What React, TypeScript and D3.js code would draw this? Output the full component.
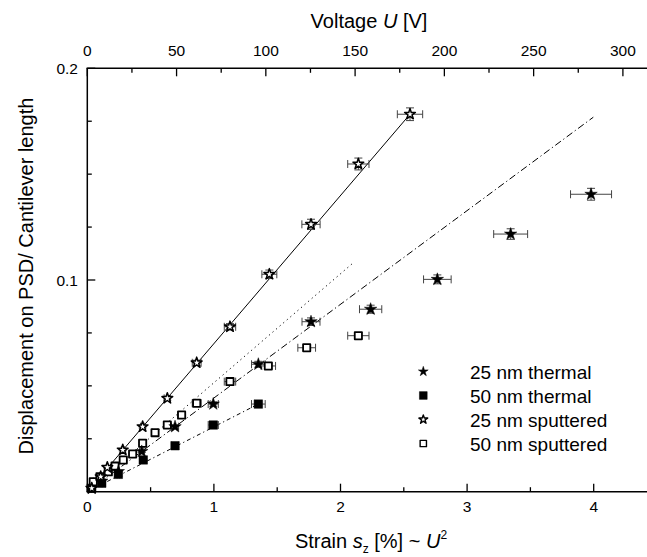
import React from "react";
import * as d3 from "d3";

// ---- data (strain s [%], displacement) ----
const thermal25S = [0.035, 0.114, 0.245, 0.43, 0.693, 0.995, 1.351, 1.767, 2.238, 2.765, 3.344, 3.979];
const thermal25D = [0.0016, 0.005, 0.0095, 0.019, 0.0307, 0.0414, 0.0602, 0.0803, 0.0862, 0.1003, 0.1217, 0.1405];
const thermal25Ex = [0.002, 0.005, 0.01, 0.017, 0.028, 0.04, 0.054, 0.071, 0.088, 0.109, 0.134, 0.162];
const thermal25Ey = [0.0001, 0.0002, 0.0003, 0.0005, 0.0008, 0.001, 0.0014, 0.0018, 0.0019, 0.0021, 0.0025, 0.0028];

const thermal50S = [0.035, 0.114, 0.245, 0.442, 0.693, 0.995, 1.351];
const thermal50D = [0.0016, 0.004, 0.0082, 0.015, 0.0217, 0.0315, 0.0414];
const thermal50Ex = [0.002, 0.005, 0.01, 0.018, 0.028, 0.04, 0.054];
const thermal50Ey = [0.0001, 0.0001, 0.0002, 0.0003, 0.0005, 0.0007, 0.0009];

const sput25S = [0.035, 0.106, 0.158, 0.28, 0.437, 0.632, 0.864, 1.127, 1.438, 1.767, 2.141, 2.549];
const sput25D = [0.0016, 0.0071, 0.0115, 0.0197, 0.0307, 0.0441, 0.0609, 0.0779, 0.1027, 0.1263, 0.1548, 0.1783];
const sput25Ex = [0.002, 0.004, 0.006, 0.011, 0.017, 0.025, 0.035, 0.045, 0.059, 0.072, 0.084, 0.1];
const sput25Ey = [0.0001, 0.0002, 0.0003, 0.0004, 0.0006, 0.0009, 0.0012, 0.0015, 0.002, 0.0024, 0.0028, 0.003];

const sput50S = [0.047, 0.1, 0.166, 0.219, 0.284, 0.358, 0.437, 0.535, 0.632, 0.745, 0.864, 1.127, 1.43, 1.733, 2.141];
const sput50D = [0.0047, 0.0071, 0.0094, 0.0121, 0.015, 0.0178, 0.0229, 0.0279, 0.0315, 0.0362, 0.0418, 0.052, 0.0594, 0.068, 0.0737];
const sput50Ex = [0.002, 0.004, 0.007, 0.009, 0.011, 0.014, 0.017, 0.021, 0.025, 0.03, 0.035, 0.045, 0.057, 0.07, 0.084];
const sput50Ey = [0.0001, 0.0002, 0.0002, 0.0003, 0.0003, 0.0004, 0.0005, 0.0006, 0.0007, 0.0008, 0.0009, 0.0011, 0.0013, 0.0014, 0.0015];

// fit lines: [start, end] in (s, d)
const fitSolid = [[0, 0], [2.549, 0.1783]];
const fitDotted = [[0, 0], [2.11, 0.1086]];
const fitDashDot = [[0, 0], [3.997, 0.1769]];
const fitSquares = [[0, 0], [1.351, 0.0414]];

const bottomTicks = [0, 0.5, 1, 1.5, 2, 2.5, 3, 3.5, 4, 4.5];
const bottomLabels = [0, 1, 2, 3, 4];
const topTicks = [0, 25, 50, 75, 100, 125, 150, 175, 200, 225, 250, 275, 300, 325];
const topLabels = [0, 50, 100, 150, 200, 250, 300];
const leftTicks = [0, 0.025, 0.05, 0.075, 0.1, 0.125, 0.15, 0.175, 0.2];
const leftLabels = [0.1, 0.2];

const legendNames = ["25 nm thermal", "50 nm thermal", "25 nm sputtered", "50 nm sputtered"];

const FONT = "'Liberation Sans', Arial, Helvetica, sans-serif";

export default function App() {
  const W = 647, H = 557;
  const x0 = 87.3, x1 = 657, yTop = 68.3, yBot = 491.7;
  const x = d3.scaleLinear().domain([0, 4.5]).range([x0, x1]);
  const xTop = d3.scaleLinear().domain([0, 319.1]).range([x0, x1]);
  const y = d3.scaleLinear().domain([0, 0.2]).range([yBot, yTop]);

  const starSolid = d3.symbol().type(d3.symbolStar).size(48)() as string;
  const starOpen = d3.symbol().type(d3.symbolStar).size(36)() as string;
  const square = d3.symbol().type(d3.symbolSquare).size(72)() as string;
  const squareOpen = d3.symbol().type(d3.symbolSquare).size(52)() as string;
  const legStar = d3.symbol().type(d3.symbolStar).size(30)() as string;
  const legStarOpen = d3.symbol().type(d3.symbolStar).size(24)() as string;
  const legSquare = d3.symbol().type(d3.symbolSquare).size(60)() as string;
  const legSquareOpen = d3.symbol().type(d3.symbolSquare).size(40)() as string;

  const line = d3.line<number[]>().x((p) => x(p[0])).y((p) => y(p[1]));

  const errBars = (S: number[], D: number[], Ex: number[], Ey: number[], key: string) =>
    S.map((s, i) => {
      const cx = x(s), cy = y(D[i]);
      const xl = x(s - Ex[i]), xr = x(s + Ex[i]);
      const yt = y(D[i] + Ey[i]), yb = y(D[i] - Ey[i]);
      return (
        <g key={key + i} stroke="#444" strokeWidth={1} fill="none">
          <line x1={xl} x2={xr} y1={cy} y2={cy} />
          <line x1={xl} x2={xl} y1={cy - 4} y2={cy + 4} />
          <line x1={xr} x2={xr} y1={cy - 4} y2={cy + 4} />
          <line x1={cx} x2={cx} y1={yt} y2={yb} />
          <line x1={cx - 4} x2={cx + 4} y1={yt} y2={yt} />
          <line x1={cx - 4} x2={cx + 4} y1={yb} y2={yb} />
        </g>
      );
    });

  const markers = (S: number[], D: number[], path: string, fill: string, sw: number, key: string) =>
    S.map((s, i) => (
      <path key={key + i} d={path} transform={`translate(${x(s)},${y(D[i])})`} fill={fill} stroke="#000" strokeWidth={sw} strokeLinejoin="round" />
    ));

  return (
    <svg width={W} height={H} style={{ position: "absolute", left: 0, top: 0, background: "#fff" }}>
      <rect width={W} height={H} fill="#fff" />
      {/* fit lines */}
      <path d={line(fitSolid as any) || ""} stroke="#000" strokeWidth={1} fill="none" />
      <path d={line(fitDotted as any) || ""} stroke="#000" strokeWidth={1} fill="none" strokeDasharray="1.2,3.5" />
      <path d={line(fitDashDot as any) || ""} stroke="#000" strokeWidth={1} fill="none" strokeDasharray="7,3,1.2,3" />
      <path d={line(fitSquares as any) || ""} stroke="#000" strokeWidth={1} fill="none" strokeDasharray="4,3,1.2,3" />

      {/* error bars */}
      {errBars(thermal50S, thermal50D, thermal50Ex, thermal50Ey, "e50t")}
      {errBars(sput50S, sput50D, sput50Ex, sput50Ey, "e50s")}
      {errBars(thermal25S, thermal25D, thermal25Ex, thermal25Ey, "e25t")}
      {errBars(sput25S, sput25D, sput25Ex, sput25Ey, "e25s")}

      {/* markers */}
      {markers(thermal50S, thermal50D, square, "#000", 0.5, "m50t")}
      {markers(sput50S, sput50D, squareOpen, "#fff", 1.8, "m50s")}
      {markers(thermal25S, thermal25D, starSolid, "#000", 0.5, "m25t")}
      {markers(sput25S, sput25D, starOpen, "#fff", 1.5, "m25s")}

      {/* axes */}
      <g stroke="#000" strokeWidth={1.5} fill="none">
        <line x1={x0} x2={x0} y1={yTop} y2={yBot} />
        <line x1={x0 - 0.75} x2={W} y1={yBot} y2={yBot} />
        <line x1={x0 - 0.75} x2={W} y1={yTop} y2={yTop} />
      </g>
      <g stroke="#000" strokeWidth={1.3}>
        {bottomTicks.map((t, i) => (
          <line key={"bt" + i} x1={x(t)} x2={x(t)} y1={yBot} y2={yBot - (i % 2 === 0 ? 8 : 4.5)} />
        ))}
        {topTicks.map((t, i) => (
          <line key={"tt" + i} x1={xTop(t)} x2={xTop(t)} y1={yTop} y2={yTop + (i % 2 === 0 ? 8 : 4.5)} />
        ))}
        {leftTicks.map((t, i) => (
          <line key={"lt" + i} x1={x0} x2={x0 + (i % 4 === 0 ? 8 : 4.5)} y1={y(t)} y2={y(t)} />
        ))}
      </g>
      <g fontFamily={FONT} fontSize={15.5} fill="#000">
        {bottomLabels.map((t) => (
          <text key={"bl" + t} x={x(t)} y={512} textAnchor="middle">{t}</text>
        ))}
        {topLabels.map((t) => (
          <text key={"tl" + t} x={xTop(t)} y={55.5} textAnchor="middle">{t}</text>
        ))}
        {leftLabels.map((t) => (
          <text key={"ll" + t} x={78} y={y(t) + 5.5} textAnchor="end">{t}</text>
        ))}
      </g>

      {/* titles */}
      <text x={369} y={28} textAnchor="middle" fontFamily={FONT} fontSize={20}>
        Voltage <tspan fontStyle="italic">U</tspan>  [V]
      </text>
      <text x={371} y={548} textAnchor="middle" fontFamily={FONT} fontSize={20}>
        Strain <tspan fontStyle="italic">s</tspan>
        <tspan fontSize={12} dy={5}>z</tspan>
        <tspan dy={-5}> [%] ~ </tspan>
        <tspan fontStyle="italic">U</tspan>
        <tspan fontSize={12} dy={-9}>2</tspan>
      </text>
      <text transform="translate(33,276) rotate(-90)" textAnchor="middle" fontFamily={FONT} fontSize={20}>
        Displacement on PSD/ Cantilever length
      </text>

      {/* legend */}
      <g fontFamily={FONT} fontSize={19}>
        {legendNames.map((n, i) => {
          const ly = 371.5 + i * 24;
          const p = i === 0 ? legStar : i === 1 ? legSquare : i === 2 ? legStarOpen : legSquareOpen;
          const fill = i < 2 ? "#000" : "#fff";
          return (
            <g key={n}>
              <path d={p} transform={`translate(423.3,${ly})`} fill={fill} stroke="#000" strokeWidth={i < 2 ? 0.5 : 1.4} strokeLinejoin="round" />
              <text x={470} y={ly + 7}>{n}</text>
            </g>
          );
        })}
      </g>
    </svg>
  );
}
